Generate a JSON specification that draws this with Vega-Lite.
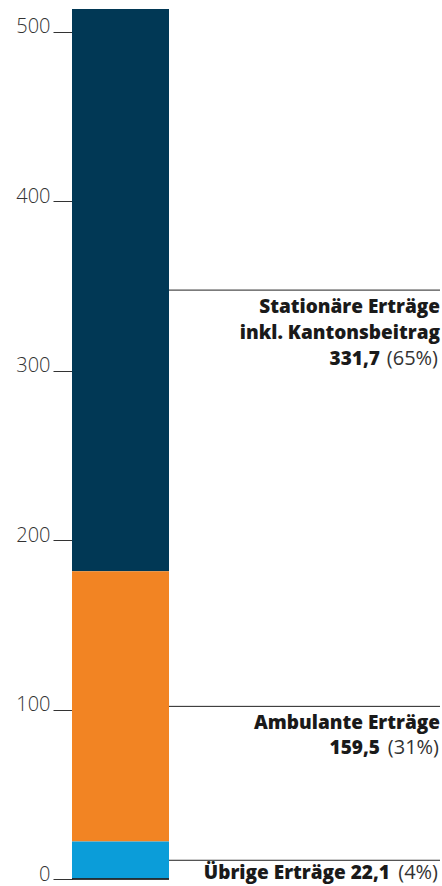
{
  "$schema": "https://vega.github.io/schema/vega-lite/v6.json",
  "autosize": {"type": "none"},
  "width": 368,
  "height": 870,
  "padding": {"left": 72, "top": 9, "right": 2, "bottom": 7},
  "background": "white",
  "config": {
    "view": {"stroke": null},
    "text": {"font": "Open Sans", "fontSize": 19, "color": "#1a1a1a"}
  },
  "data": {
    "values": [
      {"Gruppe": "Erträge", "Kategorie": "Stationäre Erträge", "Titel": "Stationäre Erträge\ninkl. Kantonsbeitrag", "Wert": 331.7, "WertText": "331,7", "Anteil": "(65%)"},
      {"Gruppe": "Erträge", "Kategorie": "Ambulante Erträge", "Titel": "Ambulante Erträge", "Wert": 159.5, "WertText": "159,5", "Anteil": "(31%)"},
      {"Gruppe": "Erträge", "Kategorie": "Übrige Erträge", "Titel": "", "Wert": 22.1, "WertText": "Übrige Erträge 22,1", "Anteil": "(4%)"}
    ]
  },
  "layer": [
    {
      "mark": {"type": "bar"},
      "encoding": {
        "x": {"field": "Gruppe", "type": "nominal", "scale": {"range": [0, 97], "paddingInner": 0, "paddingOuter": 0}, "axis": null},
        "y": {
          "field": "Wert", "type": "quantitative", "stack": "zero",
          "scale": {"domain": [0, 513.3], "nice": false, "zero": true},
          "axis": {
            "title": null, "domain": false, "grid": false,
            "values": [0, 100, 200, 300, 400, 500],
            "tickSize": 19, "tickColor": "#333333", "tickWidth": 1,
            "labelFont": "Open Sans", "labelFontSize": 20, "labelFontWeight": 300,
            "labelColor": "#333333", "labelPadding": 3, "labelOffset": -5
          }
        },
        "color": {
          "field": "Kategorie", "type": "nominal",
          "scale": {"domain": ["Stationäre Erträge", "Ambulante Erträge", "Übrige Erträge"], "range": ["#013855", "#F28423", "#0B9DD9"]},
          "legend": null
        },
        "order": {"field": "Wert", "sort": "ascending"}
      }
    },
    {
      "mark": {"type": "rule", "color": "#222222", "strokeWidth": 1},
      "encoding": {
        "y": {"datum": 0, "type": "quantitative"},
        "x": {"field": "Gruppe", "type": "nominal", "bandPosition": 0},
        "x2": {"field": "Gruppe", "bandPosition": 1}
      }
    },
    {
      "transform": [
        {"stack": "Wert", "groupby": ["Gruppe"], "sort": [{"field": "Wert", "order": "ascending"}], "as": ["lo", "hi"]},
        {"fold": ["lo", "hi"], "as": ["Grenze", "Pos"]},
        {"aggregate": [{"op": "mean", "field": "Pos", "as": "mid"}], "groupby": ["Gruppe", "Kategorie", "Titel", "WertText", "Anteil"]}
      ],
      "layer": [
        {
          "mark": {"type": "rule", "color": "#222222", "strokeWidth": 1},
          "encoding": {
            "y": {"field": "mid", "type": "quantitative"},
            "x": {"field": "Gruppe", "type": "nominal", "bandPosition": 1},
            "x2": {"value": "width"}
          }
        },
        {
          "mark": {"type": "text", "align": "right", "baseline": "alphabetic", "fontWeight": 800, "dy": 23, "lineHeight": 26, "lineBreak": "\n"},
          "encoding": {
            "y": {"field": "mid", "type": "quantitative"},
            "x": {"value": "width"},
            "text": {"field": "Titel"}
          }
        },
        {
          "transform": [{"filter": "datum.Kategorie === 'Stationäre Erträge'"}],
          "layer": [
            {
              "mark": {"type": "text", "align": "right", "baseline": "alphabetic", "fontWeight": 800, "dy": 75, "dx": -60},
              "encoding": {"y": {"field": "mid", "type": "quantitative"}, "x": {"value": "width"}, "text": {"field": "WertText"}}
            },
            {
              "mark": {"type": "text", "align": "right", "baseline": "alphabetic", "fontWeight": 400, "fontSize": 20, "color": "#333333", "dy": 75, "dx": -2},
              "encoding": {"y": {"field": "mid", "type": "quantitative"}, "x": {"value": "width"}, "text": {"field": "Anteil"}}
            }
          ]
        },
        {
          "transform": [{"filter": "datum.Kategorie === 'Ambulante Erträge'"}],
          "layer": [
            {
              "mark": {"type": "text", "align": "right", "baseline": "alphabetic", "fontWeight": 800, "dy": 48, "dx": -60},
              "encoding": {"y": {"field": "mid", "type": "quantitative"}, "x": {"value": "width"}, "text": {"field": "WertText"}}
            },
            {
              "mark": {"type": "text", "align": "right", "baseline": "alphabetic", "fontWeight": 400, "fontSize": 20, "color": "#333333", "dy": 48, "dx": -1},
              "encoding": {"y": {"field": "mid", "type": "quantitative"}, "x": {"value": "width"}, "text": {"field": "Anteil"}}
            }
          ]
        },
        {
          "transform": [{"filter": "datum.Kategorie === 'Übrige Erträge'"}],
          "layer": [
            {
              "mark": {"type": "text", "align": "right", "baseline": "alphabetic", "fontWeight": 800, "dy": 19, "dx": -50},
              "encoding": {"y": {"field": "mid", "type": "quantitative"}, "x": {"value": "width"}, "text": {"field": "WertText"}}
            },
            {
              "mark": {"type": "text", "align": "right", "baseline": "alphabetic", "fontWeight": 400, "fontSize": 20, "color": "#333333", "dy": 19, "dx": -2},
              "encoding": {"y": {"field": "mid", "type": "quantitative"}, "x": {"value": "width"}, "text": {"field": "Anteil"}}
            }
          ]
        }
      ]
    }
  ]
}
